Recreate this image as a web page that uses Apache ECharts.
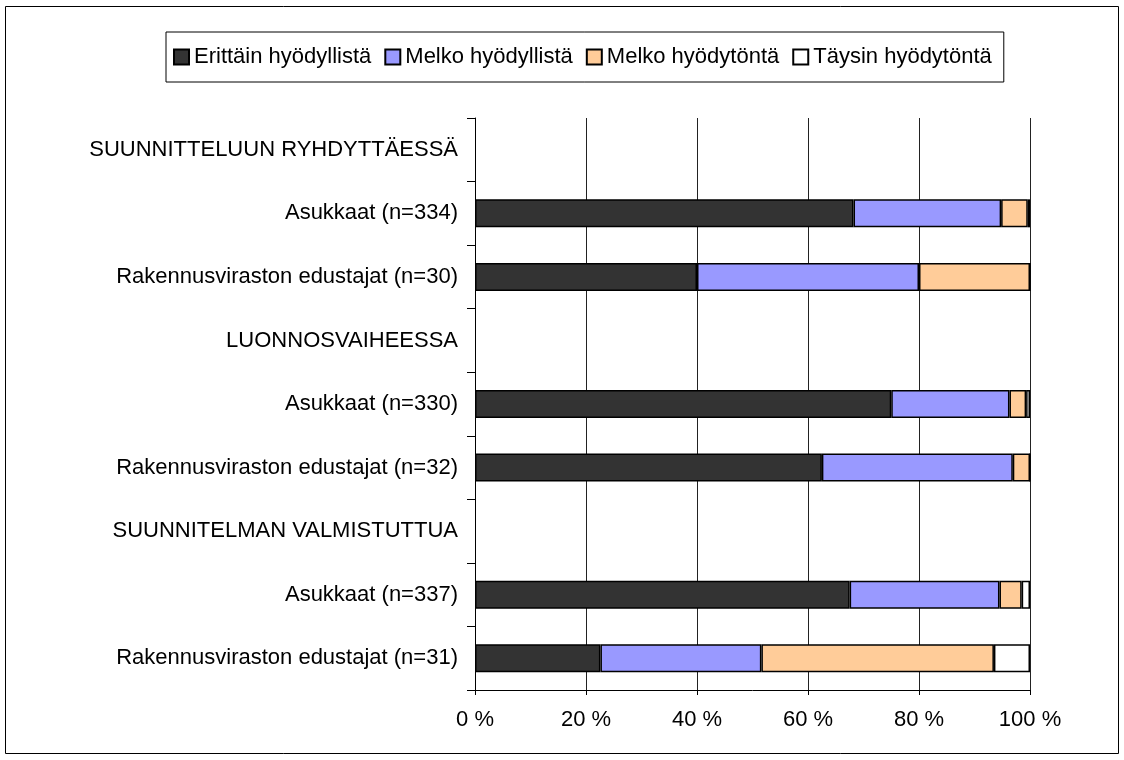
<!DOCTYPE html>
<html>
<head>
<meta charset="utf-8">
<script src="https://cdn.jsdelivr.net/npm/echarts@6/dist/echarts.min.js"></script>
<style>
  html, body { margin: 0; padding: 0; background: #fff; }
  #chart { width: 1124px; height: 760px; }
</style>
</head>
<body>
<div id="chart"></div>
<script>
// categories top to bottom (headers have no bars)
const categories = [
  'SUUNNITTELUUN RYHDYTTÄESSÄ',
  'Asukkaat (n=334)',
  'Rakennusviraston edustajat (n=30)',
  'LUONNOSVAIHEESSA',
  'Asukkaat (n=330)',
  'Rakennusviraston edustajat (n=32)',
  'SUUNNITELMAN VALMISTUTTUA',
  'Asukkaat (n=337)',
  'Rakennusviraston edustajat (n=31)'
];
const seriesNames = ['Erittäin hyödyllistä', 'Melko hyödyllistä', 'Melko hyödytöntä', 'Täysin hyödytöntä'];
const erittainHyod = ['-', 68.2, 40.0, '-', 75.0, 62.5, '-', 67.5, 22.6];
const melkoHyod    = ['-', 26.6, 40.0, '-', 21.3, 34.4, '-', 27.0, 29.0];
const melkoHyodyt  = ['-', 4.8, 20.0, '-', 3.0, 3.1, '-', 4.0, 41.9];
const taysinHyodyt = ['-', 0.4, 0, '-', 0.7, 0, '-', 1.5, 6.5];
const colors = ['#333333', '#9999ff', '#ffcc99', '#ffffff'];

const font = 'Liberation Sans';
const allData = [erittainHyod, melkoHyod, melkoHyodyt, taysinHyodyt];

const chart = echarts.init(document.getElementById('chart'));
chart.setOption({
  animation: false,
  textStyle: { fontFamily: font },
  graphic: [{
    type: 'rect',
    shape: { x: 5.5, y: 6.5, width: 1113, height: 747 },
    style: { fill: 'none', stroke: '#000', lineWidth: 1 }
  }],
  legend: {
    left: 166,
    top: 32,
    padding: [14, 12, 14, 7],
    itemGap: 13,
    itemWidth: 15,
    itemHeight: 15,
    icon: 'rect',
    borderColor: '#000',
    borderWidth: 1,
    textStyle: { fontSize: 22, color: '#000' },
    data: seriesNames
  },
  grid: { left: 475, right: 94, top: 118, bottom: 70 },
  xAxis: {
    type: 'value',
    min: 0,
    max: 100,
    interval: 20,
    axisLine: { show: true, lineStyle: { color: '#000' } },
    axisTick: { show: true, length: 5, lineStyle: { color: '#000' } },
    axisLabel: { formatter: '{value} %', fontSize: 22, color: '#000', margin: 19 },
    splitLine: { show: true, lineStyle: { color: '#222' } }
  },
  yAxis: {
    type: 'category',
    inverse: true,
    data: categories,
    axisLine: { show: true, lineStyle: { color: '#000' } },
    axisTick: { show: true, length: 8, lineStyle: { color: '#000' } },
    axisLabel: { fontSize: 22, color: '#000', margin: 17 }
  },
  series: seriesNames.map((name, i) => ({
    name: name,
    type: 'bar',
    stack: 'total',
    barWidth: 28,
    data: allData[i],
    itemStyle: { color: colors[i], borderColor: '#000', borderWidth: 1.5 }
  }))
});
</script>
</body>
</html>
